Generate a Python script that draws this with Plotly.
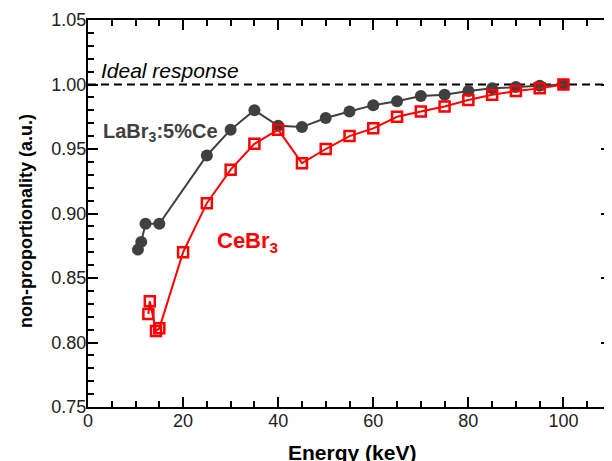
import plotly.graph_objects as go

# LaBr3:5%Ce data
la_energy = [10.5, 11.2, 12.1, 15, 25, 30, 35, 40, 45, 50, 55, 60, 65, 70, 75, 80, 85, 90, 95, 100]
la_npr = [0.872, 0.878, 0.892, 0.892, 0.945, 0.965, 0.980, 0.968, 0.967, 0.974, 0.979, 0.984,
          0.987, 0.991, 0.992, 0.995, 0.997, 0.998, 0.999, 1.000]

# CeBr3 data
ce_energy = [12.7, 13.0, 14.3, 15, 20, 25, 30, 35, 40, 45, 50, 55, 60, 65, 70, 75, 80, 85, 90, 95, 100]
ce_npr = [0.822, 0.832, 0.809, 0.811, 0.870, 0.908, 0.934, 0.954, 0.965, 0.939, 0.950, 0.960,
          0.966, 0.975, 0.979, 0.983, 0.988, 0.992, 0.995, 0.997, 1.000]

ideal_x = [0, 110]
ideal_y = [1.0, 1.0]

x_ticks = [0, 20, 40, 60, 80, 100]
y_ticks = [0.75, 0.80, 0.85, 0.90, 0.95, 1.00, 1.05]

FONT = "Arial, Liberation Sans, sans-serif"
DARK = "#404040"
RED = "#ff0000"

# page body has an 8px margin; size the figure so it fits the 612x461 window
OFF = 8
W, H = 604, 453
ML, MR, MT, MB = 80, 1, 12, 54
PW, PH = W - ML - MR, H - MT - MB


def px(xp):
    return (xp - OFF - ML) / PW


def py(yp):
    return (PH - (yp - OFF - MT)) / PH


fig = go.Figure()
fig.add_trace(go.Scatter(x=ideal_x, y=ideal_y, mode="lines",
                         line=dict(color="black", width=2, dash="8px,5px"),
                         showlegend=False, hoverinfo="skip"))
fig.add_trace(go.Scatter(x=la_energy, y=la_npr, mode="lines+markers",
                         line=dict(color=DARK, width=2),
                         marker=dict(symbol="circle", size=12, color=DARK),
                         showlegend=False))
fig.add_trace(go.Scatter(x=ce_energy, y=ce_npr, mode="lines+markers",
                         line=dict(color=RED, width=2),
                         marker=dict(symbol="square-open", size=10, color=RED,
                                     line=dict(width=2.5, color=RED)),
                         showlegend=False))

fig.add_annotation(x=2.3, y=1.0, xref="x", yref="y", text="<i>Ideal response</i>",
                   showarrow=False, xanchor="left", yanchor="bottom", yshift=1,
                   font=dict(family=FONT, size=21, color="black"))
fig.add_annotation(x=2.8, y=0.9625, xref="x", yref="y", text="<b>LaBr<sub>3</sub>:5%Ce</b>",
                   showarrow=False, xanchor="left", yanchor="middle",
                   font=dict(family=FONT, size=20, color=DARK))
fig.add_annotation(x=26.7, y=0.878, xref="x", yref="y", text="<b>CeBr<sub>3</sub></b>",
                   showarrow=False, xanchor="left", yanchor="middle",
                   font=dict(family=FONT, size=22, color=RED))

# axis titles
fig.add_annotation(x=px(26), y=py(221), xref="paper", yref="paper",
                   text="<b>non-proportionality (a.u.)</b>", textangle=-90,
                   showarrow=False, xanchor="center", yanchor="middle",
                   font=dict(family=FONT, size=18, color="black"))
fig.add_annotation(x=px(352), y=py(439), xref="paper", yref="paper",
                   text="<b>Energy (keV)</b>",
                   showarrow=False, xanchor="center", yanchor="top",
                   font=dict(family=FONT, size=21, color="black"))

axis_common = dict(showline=True, linecolor="black", linewidth=2, mirror="ticks",
                   ticks="inside", ticklen=10, tickwidth=2, tickcolor="black",
                   showgrid=False, zeroline=False, automargin=False,
                   ticklabelstandoff=-4,
                   tickfont=dict(family=FONT, size=18, color="#222222"))

fig.update_xaxes(range=[0, 110], tickvals=x_ticks, ticktext=[str(v) for v in x_ticks],
                 minor=dict(dtick=5, tick0=0, ticks="inside", ticklen=6, tickwidth=1.5,
                            tickcolor="black", showgrid=False),
                 **axis_common)
fig.update_yaxes(range=[0.75, 1.05], tickvals=y_ticks, ticktext=[f"{v:.2f}" for v in y_ticks],
                 minor=dict(dtick=0.01, tick0=0.75, ticks="inside", ticklen=6, tickwidth=1.5,
                            tickcolor="black", showgrid=False),
                 **axis_common)

fig.update_layout(width=W, height=H, margin=dict(l=ML, r=MR, t=MT, b=MB),
                  paper_bgcolor="white", plot_bgcolor="white",
                  font=dict(family=FONT))

fig.write_html("out.html")
